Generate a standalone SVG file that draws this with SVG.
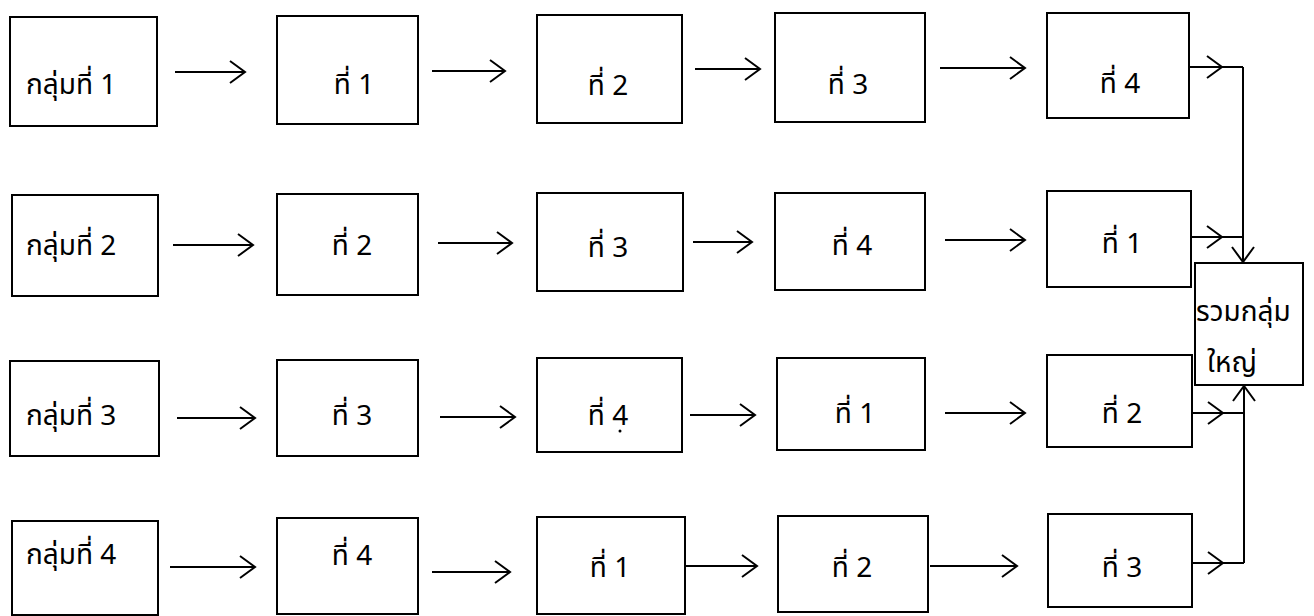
<svg xmlns="http://www.w3.org/2000/svg" width="1314" height="616" viewBox="0 0 1314 616">
  <style>
    .box { fill: #ffffff; stroke: #000000; stroke-width: 2; }
    .lbl { font-family: "Noto Sans Thai", "Loma", "Garuda", "Norasi", "Noto Sans", "DejaVu Sans", sans-serif; font-size: 28px; fill: #000000; }
    .mid { text-anchor: middle; }
    .conn { fill: none; stroke: #000000; stroke-width: 2; }
  </style>
  <defs>
    <marker id="ah" markerUnits="userSpaceOnUse" markerWidth="18" markerHeight="26" refX="16" refY="12" orient="auto">
      <path d="M1,1 L16,12 L1,23" fill="none" stroke="#000000" stroke-width="2"/>
    </marker>
  </defs>
  <rect width="1314" height="616" fill="#ffffff"/>

  <!-- Row 1 -->
  <g id="r1c0"><rect class="box" x="10" y="17" width="147" height="109"/><text class="lbl" x="26" y="94">กลุ่มที่ 1</text></g>
  <g id="r1c1"><rect class="box" x="277" y="16" width="141" height="108"/><text class="lbl mid" x="354" y="94">ที่ 1</text></g>
  <g id="r1c2"><rect class="box" x="537" y="15" width="145" height="108"/><text class="lbl mid" x="608" y="95">ที่ 2</text></g>
  <g id="r1c3"><rect class="box" x="775" y="13" width="150" height="109"/><text class="lbl mid" x="848" y="94">ที่ 3</text></g>
  <g id="r1c4"><rect class="box" x="1047" y="13" width="142" height="105"/><text class="lbl mid" x="1120" y="93">ที่ 4</text></g>

  <!-- Row 2 -->
  <g id="r2c0"><rect class="box" x="12" y="195" width="146" height="101"/><text class="lbl" x="26" y="255">กลุ่มที่ 2</text></g>
  <g id="r2c1"><rect class="box" x="277" y="194" width="141" height="101"/><text class="lbl mid" x="352" y="255">ที่ 2</text></g>
  <g id="r2c2"><rect class="box" x="537" y="193" width="146" height="98"/><text class="lbl mid" x="608" y="257">ที่ 3</text></g>
  <g id="r2c3"><rect class="box" x="775" y="193" width="150" height="97"/><text class="lbl mid" x="852" y="255">ที่ 4</text></g>
  <g id="r2c4"><rect class="box" x="1047" y="191" width="144" height="96"/><text class="lbl mid" x="1122" y="253">ที่ 1</text></g>

  <!-- Row 3 -->
  <g id="r3c0"><rect class="box" x="10" y="361" width="149" height="95"/><text class="lbl" x="26" y="425">กลุ่มที่ 3</text></g>
  <g id="r3c1"><rect class="box" x="277" y="360" width="141" height="96"/><text class="lbl mid" x="352" y="425">ที่ 3</text></g>
  <g id="r3c2"><rect class="box" x="537" y="358" width="145" height="94"/><text class="lbl mid" x="608" y="425">ที่ 4</text><circle cx="620" cy="431" r="1.5" fill="#000000"/></g>
  <g id="r3c3"><rect class="box" x="777" y="358" width="148" height="92"/><text class="lbl mid" x="855" y="423">ที่ 1</text></g>
  <g id="r3c4"><rect class="box" x="1047" y="355" width="145" height="92"/><text class="lbl mid" x="1122" y="423">ที่ 2</text></g>

  <!-- Row 4 -->
  <g id="r4c0"><rect class="box" x="12" y="521" width="146" height="94"/><text class="lbl" x="26" y="564">กลุ่มที่ 4</text></g>
  <g id="r4c1"><rect class="box" x="277" y="518" width="141" height="96"/><text class="lbl mid" x="352" y="565">ที่ 4</text></g>
  <g id="r4c2"><rect class="box" x="537" y="517" width="148" height="97"/><text class="lbl mid" x="610" y="577">ที่ 1</text></g>
  <g id="r4c3"><rect class="box" x="778" y="516" width="150" height="96"/><text class="lbl mid" x="852" y="577">ที่ 2</text></g>
  <g id="r4c4"><rect class="box" x="1048" y="514" width="144" height="93"/><text class="lbl mid" x="1122" y="577">ที่ 3</text></g>

  <!-- Final node -->
  <g id="total"><rect class="box" x="1195" y="263" width="108" height="122"/>
    <text class="lbl" x="1196" y="321">รวมกลุ่ม</text>
    <text class="lbl" x="1207" y="372">ใหญ่</text>
  </g>

  <g id="connectors">
    <!-- row 1 -->
    <path class="conn" d="M175,72 H245" marker-end="url(#ah)"/>
    <path class="conn" d="M432,71 H505" marker-end="url(#ah)"/>
    <path class="conn" d="M695,69 H760" marker-end="url(#ah)"/>
    <path class="conn" d="M940,68 H1025" marker-end="url(#ah)"/>
    <!-- row 2 -->
    <path class="conn" d="M173,245 H253" marker-end="url(#ah)"/>
    <path class="conn" d="M438,243 H512" marker-end="url(#ah)"/>
    <path class="conn" d="M693,242 H752" marker-end="url(#ah)"/>
    <path class="conn" d="M945,240 H1025" marker-end="url(#ah)"/>
    <!-- row 3 -->
    <path class="conn" d="M177,418 H255" marker-end="url(#ah)"/>
    <path class="conn" d="M440,417 H515" marker-end="url(#ah)"/>
    <path class="conn" d="M690,415 H755" marker-end="url(#ah)"/>
    <path class="conn" d="M945,413 H1025" marker-end="url(#ah)"/>
    <!-- row 4 -->
    <path class="conn" d="M170,567 H255" marker-end="url(#ah)"/>
    <path class="conn" d="M432,572 H510" marker-end="url(#ah)"/>
    <path class="conn" d="M685,566 H757" marker-end="url(#ah)"/>
    <path class="conn" d="M930,566 H1017" marker-end="url(#ah)"/>
    <!-- outputs into the final node -->
    <path class="conn" d="M1189,67 H1222" marker-end="url(#ah)"/>
    <path class="conn" d="M1222,67 H1243"/>
    <path class="conn" d="M1243,67 V262" marker-end="url(#ah)"/>
    <path class="conn" d="M1191,237 H1222" marker-end="url(#ah)"/>
    <path class="conn" d="M1222,237 H1243"/>
    <path class="conn" d="M1192,413 H1223" marker-end="url(#ah)"/>
    <path class="conn" d="M1223,413 H1245"/>
    <path class="conn" d="M1192,563 H1223" marker-end="url(#ah)"/>
    <path class="conn" d="M1223,563 H1244"/>
    <path class="conn" d="M1244,563 V386" marker-end="url(#ah)"/>
  </g>
</svg>
